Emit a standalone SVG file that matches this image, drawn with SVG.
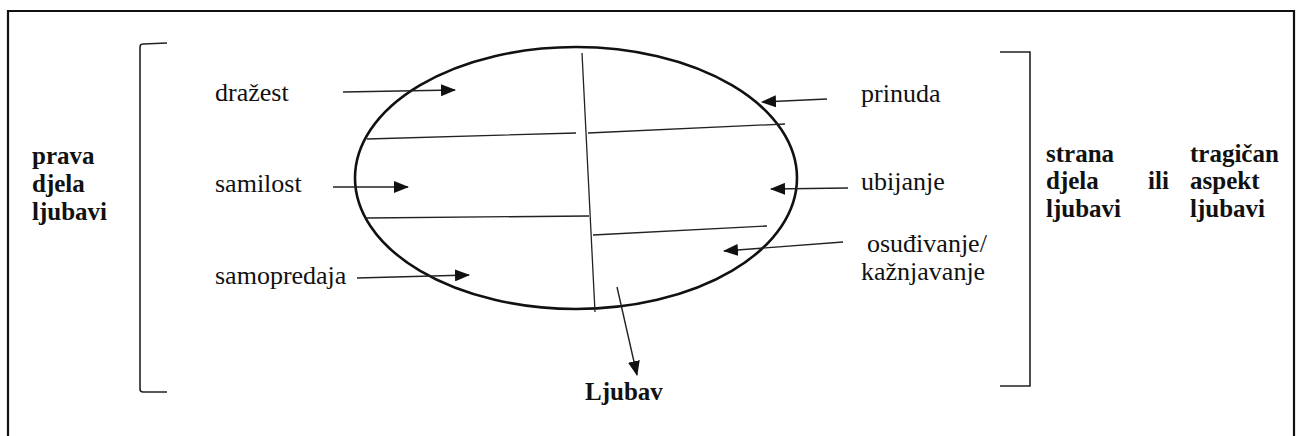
<svg xmlns="http://www.w3.org/2000/svg" width="1302" height="436" viewBox="0 0 1302 436">
<style>
text{font-family:'Liberation Serif','Times New Roman',Times,serif;font-size:26px;fill:#111}
.b{font-weight:bold;font-size:25px}
.ln{stroke:#222;stroke-width:1.3;fill:none}
.ar{stroke:#222;stroke-width:1.4;fill:none;marker-end:url(#ah)}
.br{stroke:#222;stroke-width:1.6;fill:none}
</style>
<defs>
<marker id="ah" markerUnits="userSpaceOnUse" markerWidth="15" markerHeight="12" refX="14" refY="6" orient="auto">
<path d="M0,0 L15,6 L0,12 z" fill="#111"/>
</marker>
</defs>
<rect x="0" y="0" width="1302" height="436" fill="#fff"/>
<path d="M8,440 L8,11 L1294,11 L1294,440" stroke="#111" stroke-width="2.2" fill="none"/>
<g id="left-bracket"><path class="br" d="M167,43 L143,44 Q140,44 140,47 L140,389 Q140,392 143,392 L167,392"/></g>
<g id="right-bracket"><path class="br" d="M1000,52 L1030,52 L1030,386 L1000,386"/></g>
<g id="ellipse">
<ellipse cx="576" cy="178" rx="221" ry="131" fill="none" stroke="#111" stroke-width="2.6"/>
<path class="ln" d="M582,53 L595,312 M367,139 L576,133 M588,133 L785,124 M367,218 L589,216 M593,235 L767,226"/>
</g>
<g id="left-label"><text class="b" x="32" y="164">prava</text><text class="b" x="32" y="192">djela</text><text class="b" x="32" y="220">ljubavi</text></g>
<g id="right-label"><text class="b" x="1046" y="162">strana</text><text class="b" x="1190" y="162">tragičan</text><text class="b" x="1046" y="189">djela</text><text class="b" x="1148" y="189">ili</text><text class="b" x="1190" y="189">aspekt</text><text class="b" x="1046" y="217">ljubavi</text><text class="b" x="1190" y="217">ljubavi</text></g>
<g id="drazest"><text x="215" y="101">dražest</text></g>
<g id="samilost"><text x="215" y="192">samilost</text></g>
<g id="samopredaja"><text x="215" y="284">samopredaja</text></g>
<g id="prinuda"><text x="861" y="102">prinuda</text></g>
<g id="ubijanje"><text x="861" y="190">ubijanje</text></g>
<g id="osudivanje"><text x="867" y="252">osuđivanje/</text><text x="861" y="280">kažnjavanje</text></g>
<g id="ljubav"><text class="b" x="585" y="400">Ljubav</text></g>
<g id="connectors">
<path class="ar" d="M343,92 L455,90"/>
<path class="ar" d="M333,187 L408,187"/>
<path class="ar" d="M357,278 L469,275"/>
<path class="ar" d="M827,99 L762,102"/>
<path class="ar" d="M848,188 L771,189"/>
<path class="ar" d="M843,242 L724,251"/>
<path class="ar" d="M617,287 L637,375"/>
</g>
</svg>
